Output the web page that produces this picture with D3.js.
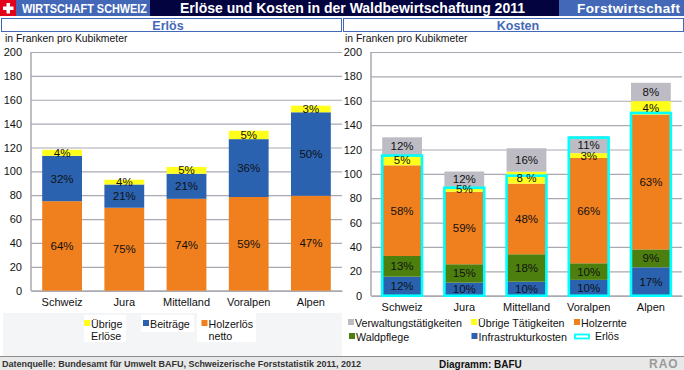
<!DOCTYPE html>
<html>
<head>
<meta charset="utf-8">
<script src="https://cdn.jsdelivr.net/npm/d3@7"></script>
<style>
  html, body { margin: 0; padding: 0; background: #fff; }
  svg { display: block; font-family: "Liberation Sans", Arial, sans-serif; }
</style>
</head>
<body>
<div id="chart"></div>
<script>
const categories = ['Schweiz', 'Jura', 'Mittelland', 'Voralpen', 'Alpen']
const yTicks = [0, 20, 40, 60, 80, 100, 120, 140, 160, 180, 200]

// Erlös
const holzerloes = [75, 69.5, 77, 78.5, 79.5]
const beitraege = [38, 19.5, 21, 48.5, 70]
const uebrigeErloese = [5, 4, 5.7, 7, 5.5]
const holzerloesPct = ['64%', '75%', '74%', '59%', '47%']
const beitraegePct = ['32%', '21%', '21%', '36%', '50%']
const uebrigeErloesePct = ['4%', '4%', '5%', '5%', '3%']

// Kosten
const infrastruktur = [15.6, 10.7, 11.5, 13, 23.3]
const waldpflege = [17, 15.1, 22.5, 13.6, 14.7]
const holzernte = [74.4, 59.5, 58, 86.4, 110.7]
const uebrigeTaetigkeiten = [8, 4, 9.8, 4, 11]
const verwaltung = [15, 12.6, 19.2, 14, 15]
const infrastrukturPct = ['12%', '10%', '10%', '10%', '17%']
const waldpflegePct = ['13%', '15%', '18%', '10%', '9%']
const holzerntePct = ['58%', '59%', '48%', '66%', '63%']
const uebrigeTaetigkeitenPct = ['5%', '5%', '8 %', '3%', '4%']
const verwaltungPct = ['12%', '12%', '16%', '11%', '8%']
const erloesTotal = [115, 88.6, 98.5, 129.7, 150]

const COLOR = {
  orange: '#f07f1e',
  blue: '#2a62b0',
  yellow: '#ffff1a',
  green: '#4d7f0e',
  gray: '#bdbcc4',
  cyan: '#00ffff',
  navy: '#03033f',
  header: '#4468b8',
  grid: '#a9a9b1'
}

const width = 684
const height = 370

const svg = d3.select('#chart').append('svg')
  .attr('width', width)
  .attr('height', height)

// Header
svg.append('rect').attr('width', width).attr('height', 16).attr('fill', COLOR.navy)
svg.append('rect').attr('width', 16).attr('height', 16).attr('fill', '#e2001a')
svg.append('path').attr('d', 'M6.5 3h3.5v3.5h3.5v3.5h-3.5v3.5h-3.5v-3.5h-3.5v-3.5h3.5z').attr('fill', '#fff')
svg.append('rect').attr('x', 16).attr('width', 134).attr('height', 16).attr('fill', COLOR.header)
svg.append('rect').attr('x', 559).attr('width', 125).attr('height', 16).attr('fill', COLOR.header)

svg.append('text').attr('x', 22).attr('y', 12.5)
  .attr('font-size', 12).attr('font-weight', 'bold').attr('fill', '#fff')
  .attr('textLength', 125).attr('lengthAdjust', 'spacingAndGlyphs')
  .text('WIRTSCHAFT SCHWEIZ')
svg.append('text').attr('x', 180).attr('y', 13)
  .attr('font-size', 14).attr('font-weight', 'bold').attr('fill', '#fff')
  .attr('textLength', 345).attr('lengthAdjust', 'spacing')
  .text('Erlöse und Kosten in der Waldbewirtschaftung 2011')
svg.append('text').attr('x', 577).attr('y', 12.5)
  .attr('font-size', 13.5).attr('font-weight', 'bold').attr('fill', '#fff')
  .attr('textLength', 103).attr('lengthAdjust', 'spacing')
  .text('Forstwirtschaft')

// Footer
svg.append('rect').attr('y', 356).attr('width', width).attr('height', 14).attr('fill', '#e8e8e8')
svg.append('line').attr('x1', 0).attr('x2', width).attr('y1', 356.5).attr('y2', 356.5).attr('stroke', '#8c8c8c')
svg.append('text').attr('x', 2).attr('y', 367)
  .attr('font-size', 9).attr('font-weight', 'bold').attr('fill', '#333')
  .attr('textLength', 359).attr('lengthAdjust', 'spacing')
  .text('Datenquelle: Bundesamt für Umwelt BAFU, Schweizerische Forststatistik 2011, 2012')
svg.append('text').attr('x', 439).attr('y', 367.5)
  .attr('font-size', 10).attr('font-weight', 'bold').attr('fill', '#111')
  .text('Diagramm: BAFU')
svg.append('text').attr('x', 649).attr('y', 368)
  .attr('font-size', 12).attr('font-weight', 'bold').attr('fill', '#9a9a9a')
  .attr('letter-spacing', 1)
  .text('RAO')

function drawPanel (opts) {
  const { boxX, boxW, title, titleX, noteX, x0, x1, y0, y1, series, total } = opts

  svg.append('rect')
    .attr('x', boxX + 0.5).attr('y', 18.5)
    .attr('width', boxW).attr('height', 13)
    .attr('fill', '#fff').attr('stroke', COLOR.header)
  svg.append('text')
    .attr('x', titleX).attr('y', 29.5)
    .attr('text-anchor', 'middle')
    .attr('font-size', 12.5).attr('font-weight', 'bold').attr('fill', COLOR.header)
    .text(title)
  svg.append('text')
    .attr('x', noteX).attr('y', 42)
    .attr('font-size', 10.4).attr('fill', '#111')
    .text('in Franken pro Kubikmeter')

  const x = d3.scaleBand().domain(categories).range([x0, x1]).paddingInner(0.36).paddingOuter(0.18)
  const y = d3.scaleLinear().domain([0, 200]).range([y0, y1])

  const rows = categories.map((c, i) => {
    const row = { category: c }
    series.forEach(s => { row[s.key] = s.values[i] })
    return row
  })
  const stacked = d3.stack().keys(series.map(s => s.key))(rows)

  const yAxis = svg.append('g')
    .attr('transform', `translate(${x0},0)`)
    .call(d3.axisLeft(y).tickValues(yTicks).tickSize(-(x1 - x0)).tickPadding(9))
  yAxis.select('.domain').remove()
  yAxis.selectAll('.tick line').attr('stroke', COLOR.grid).attr('stroke-width', 1.2)
  yAxis.selectAll('.tick text')
    .attr('font-family', '"Liberation Sans", Arial, sans-serif')
    .attr('font-size', 11).attr('fill', '#111')

  svg.append('line')
    .attr('x1', x0).attr('x2', x0).attr('y1', y1).attr('y2', y0)
    .attr('stroke', COLOR.grid).attr('stroke-width', 1.5)

  const xAxis = svg.append('g')
    .attr('transform', `translate(0,${y0})`)
    .call(d3.axisBottom(x).tickSize(0).tickPadding(8))
  xAxis.select('.domain').attr('stroke', COLOR.grid).attr('stroke-width', 1.5)
  xAxis.selectAll('.tick text')
    .attr('font-family', '"Liberation Sans", Arial, sans-serif')
    .attr('font-size', 11).attr('fill', '#111')

  const layer = svg.selectAll(null)
    .data(stacked)
    .enter().append('g')
    .attr('fill', (d, i) => series[i].color)

  layer.selectAll('rect')
    .data(d => d)
    .enter().append('rect')
    .attr('x', d => x(d.data.category))
    .attr('y', d => y(d[1]))
    .attr('width', x.bandwidth())
    .attr('height', d => y(d[0]) - y(d[1]))

  if (total) {
    svg.selectAll(null)
      .data(total)
      .enter().append('rect')
      .attr('x', (d, i) => x(categories[i]))
      .attr('y', d => y(d))
      .attr('width', x.bandwidth())
      .attr('height', d => y0 - y(d))
      .attr('fill', 'none')
      .attr('stroke', COLOR.cyan)
      .attr('stroke-width', 2.6)
  }

  const labels = svg.selectAll(null)
    .data(stacked)
    .enter().append('g')

  labels.selectAll('text')
    .data((d, i) => d.map((v, j) => ({ v, text: series[i].labels[j] })))
    .enter().append('text')
    .attr('x', d => x(d.v.data.category) + x.bandwidth() / 2)
    .attr('y', d => y((d.v[0] + d.v[1]) / 2) + 4)
    .attr('text-anchor', 'middle')
    .attr('font-size', 11.5)
    .attr('fill', '#111')
    .text(d => d.text)
}

drawPanel({
  boxX: 1,
  boxW: 340,
  title: 'Erlös',
  titleX: 168,
  noteX: 5,
  x0: 31,
  x1: 342,
  y0: 290.7,
  y1: 52,
  series: [
    { key: 'holzerloes', values: holzerloes, labels: holzerloesPct, color: COLOR.orange },
    { key: 'beitraege', values: beitraege, labels: beitraegePct, color: COLOR.blue },
    { key: 'uebrige', values: uebrigeErloese, labels: uebrigeErloesePct, color: COLOR.yellow }
  ]
})

drawPanel({
  boxX: 343,
  boxW: 340,
  title: 'Kosten',
  titleX: 518,
  noteX: 345,
  x0: 371,
  x1: 682,
  y0: 295.7,
  y1: 52,
  series: [
    { key: 'infrastruktur', values: infrastruktur, labels: infrastrukturPct, color: COLOR.blue },
    { key: 'waldpflege', values: waldpflege, labels: waldpflegePct, color: COLOR.green },
    { key: 'holzernte', values: holzernte, labels: holzerntePct, color: COLOR.orange },
    { key: 'uebrige', values: uebrigeTaetigkeiten, labels: uebrigeTaetigkeitenPct, color: COLOR.yellow },
    { key: 'verwaltung', values: verwaltung, labels: verwaltungPct, color: COLOR.gray }
  ],
  total: erloesTotal
})

// Legends
svg.append('rect').attr('x', 3).attr('y', 313).attr('width', 339).attr('height', 43).attr('fill', '#f3f5f7')
svg.append('rect').attr('x', 84).attr('y', 315).attr('width', 42).attr('height', 27).attr('fill', '#fff')
svg.append('rect').attr('x', 141).attr('y', 315).attr('width', 53).attr('height', 17).attr('fill', '#fff')
svg.append('rect').attr('x', 197).attr('y', 313).attr('width', 59).attr('height', 29).attr('fill', '#fff')

const legendLeft = [
  { lines: ['Übrige', 'Erlöse'], color: COLOR.yellow, x: 91, y: 328 },
  { lines: ['Beiträge'], color: COLOR.blue, x: 150, y: 328 },
  { lines: ['Holzerlös', 'netto'], color: COLOR.orange, x: 208.5, y: 328 }
]
const legendRight = [
  { lines: ['Verwaltungstätigkeiten'], color: COLOR.gray, x: 355, y: 327 },
  { lines: ['Übrige Tätigkeiten'], color: COLOR.yellow, x: 478, y: 327 },
  { lines: ['Holzernte'], color: COLOR.orange, x: 581, y: 327 },
  { lines: ['Waldpflege'], color: COLOR.green, x: 356, y: 341 },
  { lines: ['Infrastrukturkosten'], color: COLOR.blue, x: 478.5, y: 341 }
]

legendLeft.concat(legendRight).forEach(d => {
  svg.append('rect')
    .attr('x', d.x - 7).attr('y', d.y - 8)
    .attr('width', 6).attr('height', 6)
    .attr('fill', d.color)
  d.lines.forEach((t, i) => {
    svg.append('text')
      .attr('x', d.x).attr('y', d.y + i * 12)
      .attr('font-size', 10.7).attr('fill', '#111')
      .text(t)
  })
})

svg.append('rect')
  .attr('x', 575).attr('y', 334.5).attr('width', 14).attr('height', 4)
  .attr('fill', '#fff').attr('stroke', COLOR.cyan).attr('stroke-width', 1.8)
svg.append('text')
  .attr('x', 595).attr('y', 339.5)
  .attr('font-size', 10.5).attr('fill', '#111')
  .text('Erlös')
</script>
</body>
</html>
